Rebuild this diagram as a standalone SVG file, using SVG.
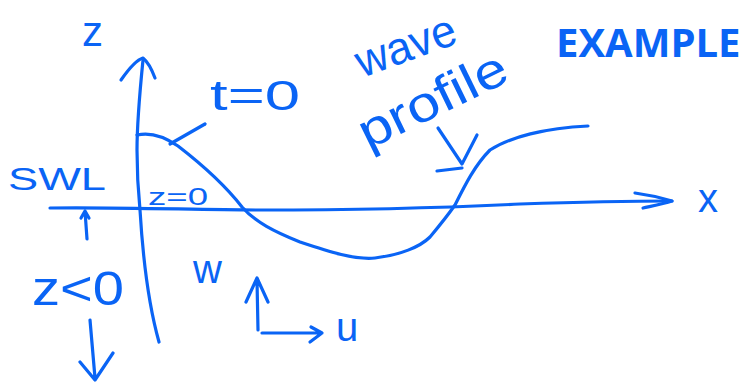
<svg xmlns="http://www.w3.org/2000/svg" width="741" height="382" viewBox="0 0 741 382">
<style>
.s{fill:none;stroke:#0A64F5;stroke-width:3.2;stroke-linecap:round;stroke-linejoin:round}
.t{fill:#0A64F5;font-family:"Liberation Sans","DejaVu Sans",sans-serif}
.b{fill:#0A64F5;font-family:"Open Sans","Liberation Sans",sans-serif;font-weight:bold}
</style>
<rect width="741" height="382" fill="#fff"/>
<g id="axes">
<path class="s" d="M143 60 C140 90 137 120 137 150 C137 180 139 200 140 210 C143 260 150 310 159 342"/>
<path class="s" d="M121 80 C128 70 136 60 143 58 C148 62 152 70 155 78"/>
<path class="s" d="M50 208 C120 207 200 210 260 210 C350 210 440 208 520 204 C580 202 640 201 672 201"/>
<path class="s" d="M635 193 C650 195 662 198 672 201 C663 204 652 206 643 208"/>
</g>
<g id="wave">
<path class="s" d="M137 135 C150 132 165 137 178 146 C200 163 225 185 242 207 C255 222 275 232 300 242 C330 252 355 260 375 258 C400 255 420 247 430 237 C440 225 448 215 455 205 C465 185 475 165 490 150 C510 137 545 128 588 126"/>
</g>
<g id="t0">
<path class="s" d="M170 144 L205 124"/>
<text class="t" x="210" y="110" font-size="42" textLength="90" lengthAdjust="spacingAndGlyphs">t=0</text>
</g>
<g id="swl">
<text class="t" x="8" y="190" font-size="32" textLength="98" lengthAdjust="spacingAndGlyphs">SWL</text>
<path class="s" d="M87 239 L85 211 M81 218 L85 211 L89 218"/>
<text class="t" x="148" y="205" font-size="24" textLength="60" lengthAdjust="spacingAndGlyphs">z=0</text>
</g>
<g id="zneg">
<text class="t" x="32" y="305" font-size="48" textLength="92" lengthAdjust="spacingAndGlyphs">z&lt;0</text>
<path class="s" d="M90 320 L95 378 M80 362 L95 380 L113 353"/>
</g>
<g id="zlabel">
<text class="t" x="82" y="46" font-size="42">z</text>
<text class="t" x="698" y="212" font-size="40">x</text>
</g>
<g id="velocity">
<text class="t" x="193" y="283" font-size="40">w</text>
<path class="s" d="M258 330 L257 280 M246 302 L257 278 L268 302"/>
<path class="s" d="M262 333 L322 333 M311 327 L322 333 L310 342"/>
<text class="t" x="336" y="341" font-size="40">u</text>
</g>
<g id="profile">
<text class="t" x="362" y="78" font-size="46" textLength="104" lengthAdjust="spacingAndGlyphs" transform="rotate(-20 362 78)">wave</text>
<text class="t" x="368" y="150" font-size="50" textLength="160" lengthAdjust="spacingAndGlyphs" transform="rotate(-26 368 150)">profile</text>
<path class="s" d="M438 128 L462 164 L477 135 M437 171 L462 168"/>
</g>
<g id="title">
<text class="b" x="556" y="57" font-size="40">EXAMPLE</text>
</g>
</svg>
